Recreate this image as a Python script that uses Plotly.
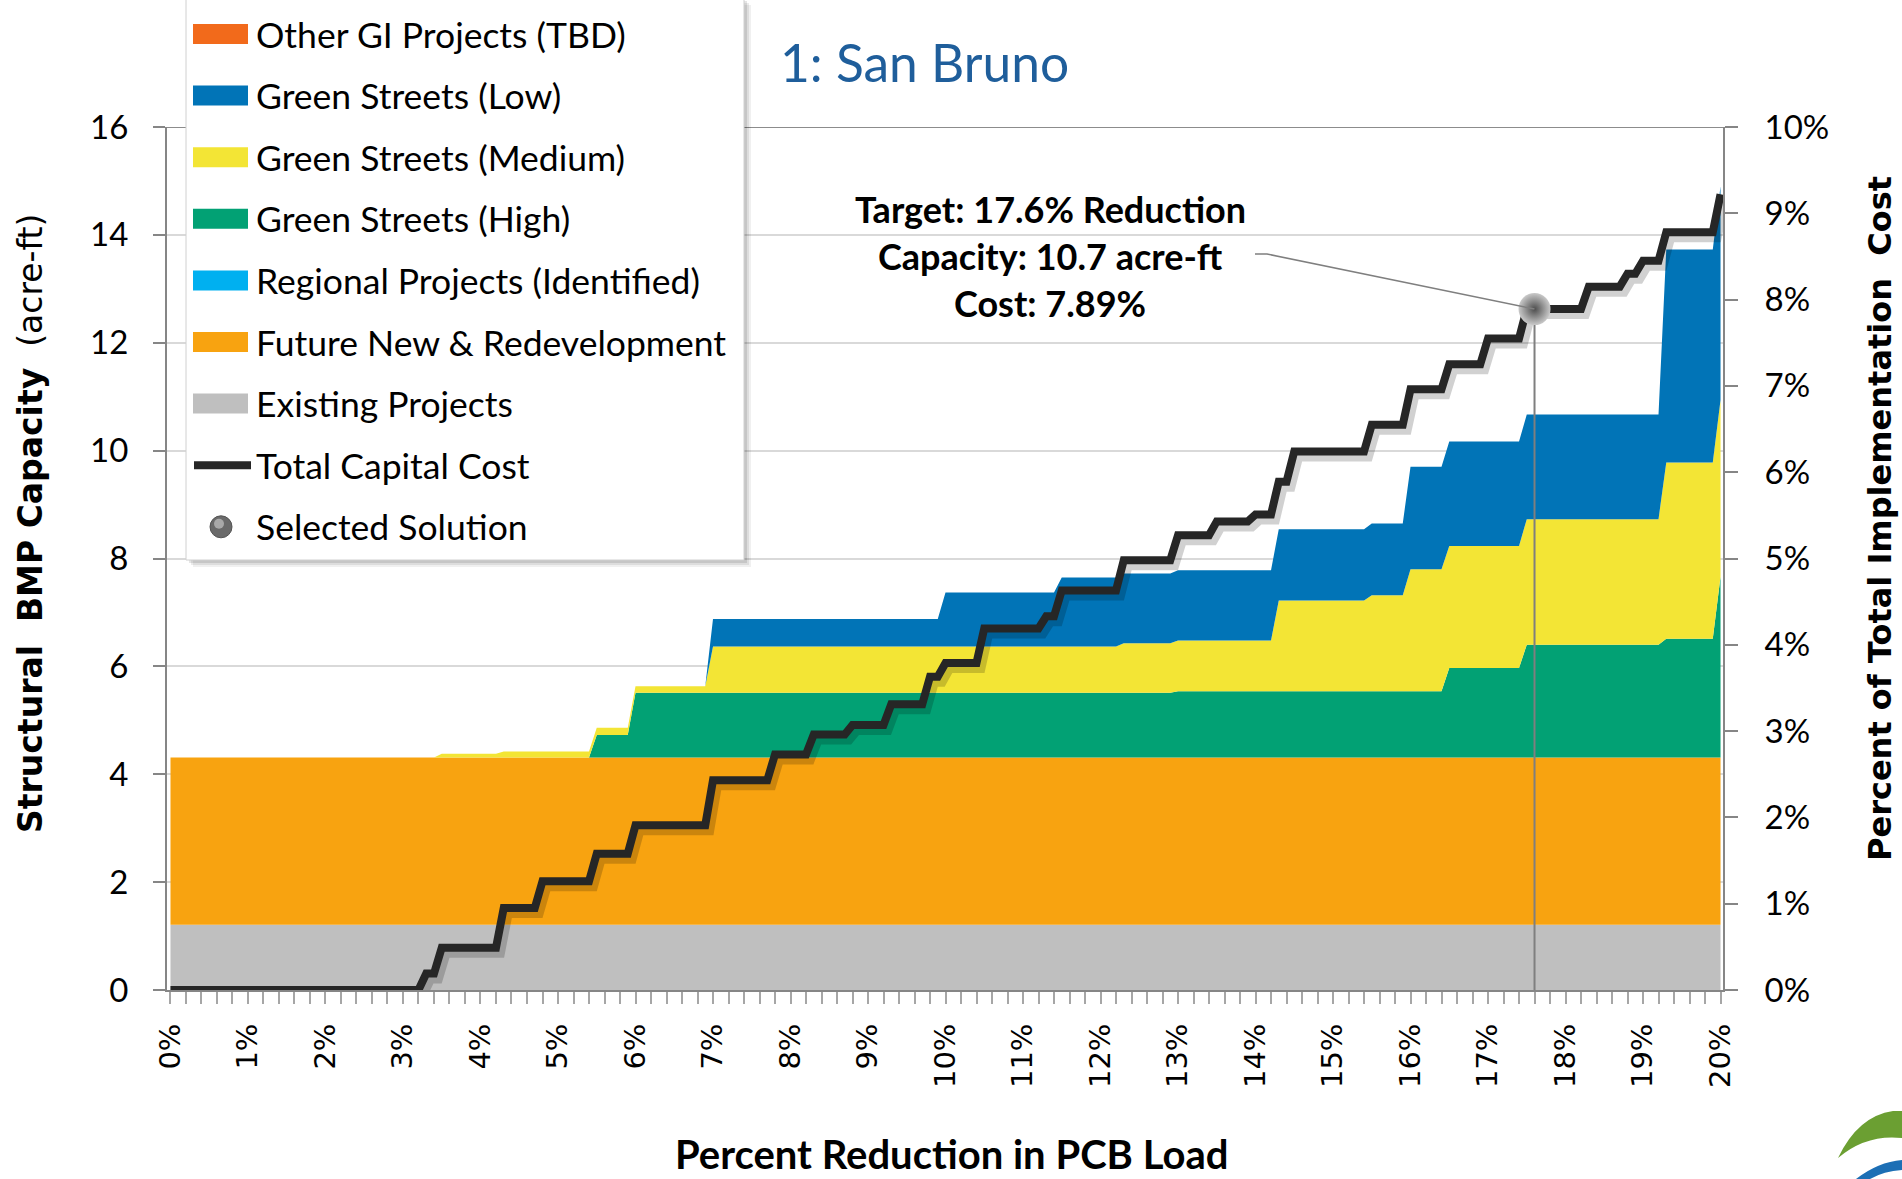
import plotly.graph_objects as go

# ---------------------------------------------------------------
# Data: structural BMP capacity (acre-ft) by percent PCB reduction
# ---------------------------------------------------------------
REDUCTION_PCT = [0, 3.4, 3.5, 4.2, 4.3, 5.4, 5.5, 5.9, 6.0, 6.9, 7.0, 9.9, 10.0,
                 11.4, 11.5, 12.2, 12.3, 12.9, 13.0, 14.2, 14.3, 15.4, 15.5, 15.9,
                 16.0, 16.4, 16.5, 17.4, 17.5, 19.2, 19.3, 19.9, 20.0]

EXISTING_PROJECTS = [1.21] * 33
FUTURE_REDEVELOPMENT = [3.10] * 33
REGIONAL_PROJECTS = [0.0] * 33
GS_HIGH = [0, 0, 0, 0, 0, 0, 0.42, 0.42, 1.20, 1.20, 1.20, 1.20, 1.20,
           1.20, 1.20, 1.20, 1.20, 1.20, 1.23, 1.23, 1.23, 1.23, 1.23, 1.23,
           1.23, 1.23, 1.66, 1.66, 2.09, 2.09, 2.20, 2.20, 3.35]
GS_MEDIUM = [0, 0, 0.07, 0.07, 0.11, 0.11, 0.13, 0.13, 0.12, 0.12, 0.86, 0.86, 0.86,
             0.86, 0.86, 0.86, 0.92, 0.92, 0.94, 0.94, 1.68, 1.68, 1.78, 1.78,
             2.26, 2.26, 2.26, 2.26, 2.33, 2.33, 3.27, 3.27, 3.28]
GS_LOW = [0, 0, 0, 0, 0, 0, 0, 0, 0, 0, 0.51, 0.51, 1.00,
          1.00, 1.28, 1.28, 1.29, 1.29, 1.30, 1.30, 1.32, 1.32, 1.33, 1.33,
          1.90, 1.90, 1.94, 1.94, 1.94, 1.94, 3.95, 3.95, 3.96]
OTHER_GI = [0.0] * 33

# Total capital cost (percent of total implementation cost)
COST_REDUCTION_PCT = [0, 3.2, 3.3, 3.4, 3.5, 4.2, 4.3, 4.7, 4.8, 5.4, 5.5, 5.9, 6.0,
                      6.9, 7.0, 7.7, 7.8, 8.2, 8.3, 8.7, 8.8, 9.2, 9.3, 9.7, 9.8,
                      9.9, 10.0, 10.4, 10.5, 11.2, 11.3, 11.4, 11.5, 12.2, 12.3,
                      12.9, 13.0, 13.4, 13.5, 13.9, 14.0, 14.2, 14.3, 14.4, 14.5,
                      15.4, 15.5, 15.9, 16.0, 16.4, 16.5, 16.9, 17.0, 17.4, 17.5,
                      18.2, 18.3, 18.7, 18.8, 18.9, 19.0, 19.2, 19.3, 19.9, 20.0]
TOTAL_COST_PCT = [0, 0, 0.19, 0.19, 0.49, 0.49, 0.95, 0.95, 1.26, 1.26, 1.58, 1.58, 1.91,
                  1.91, 2.43, 2.43, 2.73, 2.73, 2.96, 2.96, 3.07, 3.07, 3.31, 3.31, 3.63,
                  3.63, 3.79, 3.79, 4.19, 4.19, 4.33, 4.33, 4.63, 4.63, 4.98,
                  4.98, 5.27, 5.27, 5.43, 5.43, 5.51, 5.51, 5.89, 5.89, 6.24,
                  6.24, 6.55, 6.55, 6.96, 6.96, 7.25, 7.25, 7.55, 7.55, 7.89,
                  7.89, 8.15, 8.15, 8.30, 8.30, 8.45, 8.45, 8.78, 8.78, 9.22]

# Selected solution
TARGET_REDUCTION = 17.6
TARGET_CAPACITY = 10.7
TARGET_COST = 7.89

TITLE = "1: San Bruno"

# Stacking order (bottom to top) with colours
STACK = [
    ("Existing Projects", EXISTING_PROJECTS, "#BFBFBF"),
    ("Future New & Redevelopment", FUTURE_REDEVELOPMENT, "#F8A310"),
    ("Regional Projects (Identified)", REGIONAL_PROJECTS, "#00B0F0"),
    ("Green Streets (High)", GS_HIGH, "#02A174"),
    ("Green Streets (Medium)", GS_MEDIUM, "#F3E535"),
    ("Green Streets (Low)", GS_LOW, "#0174B7"),
    ("Other GI Projects (TBD)", OTHER_GI, "#F26A1B"),
]
COST_NAME = "Total Capital Cost"
SOLUTION_NAME = "Selected Solution"
LINE_COLOR = "#262626"

# ---------------------------------------------------------------
# Page geometry
# ---------------------------------------------------------------
W, H = 1902, 1179
ML, MR, MT, MB = 167, 179, 127, 189
PW, PH = W - ML - MR, H - MT - MB
X_RANGE = [-0.045, 20.032]
PX_PER_PCT = PW / (X_RANGE[1] - X_RANGE[0])
PX_PER_COST = PH / 10.0


def px(x):
    """page pixel -> paper x"""
    return (x - ML) / PW


def py(y):
    """page pixel -> paper y"""
    return (H - MB - y) / PH


CALIBRI_LIKE = "Lato, 'Open Sans', sans-serif"
VERDANA_LIKE = "'DejaVu Sans', Verdana, sans-serif"

fig = go.Figure()

# stacked capacity areas
for name, vals, color in STACK:
    fig.add_trace(go.Scatter(
        x=REDUCTION_PCT, y=vals, name=name, mode="lines",
        stackgroup="capacity", line=dict(width=0, color=color),
        fillcolor=color, showlegend=False, hoverinfo="skip",
    ))

# soft shadow under the cost line
fig.add_trace(go.Scatter(
    x=[v + 4 / PX_PER_PCT for v in COST_REDUCTION_PCT],
    y=[v - 5 / PX_PER_COST for v in TOTAL_COST_PCT],
    yaxis="y2", mode="lines", line=dict(color="rgba(0,0,0,0.18)", width=10),
    showlegend=False, hoverinfo="skip",
))

# drop line from the selected solution to the axis
fig.add_trace(go.Scatter(
    x=[TARGET_REDUCTION, TARGET_REDUCTION], y=[0, TARGET_COST], yaxis="y2",
    mode="lines", line=dict(color="#7F7F7F", width=2),
    showlegend=False, hoverinfo="skip",
))

# total capital cost
fig.add_trace(go.Scatter(
    x=COST_REDUCTION_PCT, y=TOTAL_COST_PCT, yaxis="y2", name=COST_NAME,
    mode="lines", line=dict(color=LINE_COLOR, width=8),
    showlegend=False,
))

# selected solution marker
fig.add_trace(go.Scatter(
    x=[TARGET_REDUCTION], y=[TARGET_COST], yaxis="y2", name=SOLUTION_NAME,
    mode="markers", cliponaxis=False,
    marker=dict(size=32, color="#C9C9C9",
                gradient=dict(type="radial", color="#4D4D4D"),
                line=dict(width=0)),
    showlegend=False,
))

shapes = []
annotations = []

# darker frame line along the top of the plot
shapes.append(dict(type="line", xref="paper", yref="y", x0=0, x1=1, y0=16, y1=16,
                   line=dict(color="#8C8C8C", width=2), layer="below"))

# leader line from the label to the selected solution
hook_a = ((1255 - ML) / PX_PER_PCT + X_RANGE[0], (H - MB - 254) / PX_PER_COST)
hook_b = ((1267 - ML) / PX_PER_PCT + X_RANGE[0], (H - MB - 254) / PX_PER_COST)
shapes.append(dict(
    type="path", xref="x", yref="y2",
    path=f"M{hook_a[0]},{hook_a[1]} L{hook_b[0]},{hook_b[1]} L{TARGET_REDUCTION},{TARGET_COST}",
    line=dict(color="#7F7F7F", width=1.5),
))

# ---- legend panel ----
box_l, box_r, box_t, box_b = 186, 744, -2, 560
for off, alpha in ((7, 0.06), (5, 0.08), (3, 0.10)):
    shapes.append(dict(type="rect", xref="paper", yref="paper",
                       x0=px(box_l + off), x1=px(box_r + off),
                       y0=py(box_b + off), y1=py(box_t + off),
                       fillcolor=f"rgba(0,0,0,{alpha})", line=dict(width=0), layer="above"))
shapes.append(dict(type="rect", xref="paper", yref="paper",
                   x0=px(box_l), x1=px(box_r), y0=py(box_b), y1=py(box_t),
                   fillcolor="white", line=dict(color="#D0D0D0", width=1), layer="above"))

legend_entries = [(n, "area", c) for n, _, c in reversed(STACK)]
legend_entries.append((COST_NAME, "line", LINE_COLOR))
legend_entries.append((SOLUTION_NAME, "marker", "#6E6E6E"))

for i, (name, kind, color) in enumerate(legend_entries):
    yc = 34 + 61.6 * i
    if kind == "area":
        shapes.append(dict(type="rect", xref="paper", yref="paper",
                           x0=px(193), x1=px(248), y0=py(yc + 10), y1=py(yc - 10),
                           fillcolor=color, line=dict(width=0), layer="above"))
    elif kind == "line":
        shapes.append(dict(type="line", xref="paper", yref="paper",
                           x0=px(194), x1=px(251), y0=py(yc), y1=py(yc),
                           line=dict(color=color, width=8), layer="above"))
    else:
        shapes.append(dict(type="circle", xref="paper", yref="paper",
                           x0=px(210), x1=px(232), y0=py(yc + 11), y1=py(yc - 11),
                           fillcolor="#6A6A6A", line=dict(color="#555555", width=1),
                           layer="above"))
        shapes.append(dict(type="circle", xref="paper", yref="paper",
                           x0=px(214), x1=px(224), y0=py(yc + 2), y1=py(yc - 8),
                           fillcolor="#A9A9A9", line=dict(width=0), layer="above"))
    annotations.append(dict(text=name, xref="paper", yref="paper",
                            x=px(254), y=py(yc), xanchor="left", yanchor="middle",
                            showarrow=False,
                            font=dict(family=CALIBRI_LIKE, size=35.5, color="#000000")))

# ---- chart title ----
annotations.append(dict(text=TITLE, xref="paper", yref="paper", x=px(924), y=py(62),
                        xanchor="center", yanchor="middle", showarrow=False,
                        font=dict(family=CALIBRI_LIKE, size=51.5, color="#1F5E9B")))

# ---- selected-solution label ----
label_lines = [
    f"Target: {TARGET_REDUCTION:.1f}% Reduction",
    f"Capacity: {TARGET_CAPACITY:.1f} acre-ft",
    f"Cost: {TARGET_COST:.2f}%",
]
for j, line in enumerate(label_lines):
    annotations.append(dict(text=f"<b>{line}</b>", xref="paper", yref="paper",
                            x=px(1050), y=py(209 + 47 * j), xanchor="center",
                            yanchor="middle", showarrow=False,
                            font=dict(family=CALIBRI_LIKE, size=36, color="#000000")))

# ---- axis titles ----
annotations.append(dict(
    text="<b>Structural\u00a0\u00a0BMP\u00a0Capacity</b>\u00a0\u00a0(acre-ft)",
    xref="paper", yref="paper", x=px(30), y=py(524), textangle=-90,
    xanchor="center", yanchor="middle", showarrow=False,
    font=dict(family=VERDANA_LIKE, size=33, color="#000000")))
annotations.append(dict(
    text="<b>Percent\u00a0of\u00a0Total\u00a0Implementation\u00a0\u00a0Cost</b>",
    xref="paper", yref="paper", x=px(1880), y=py(519), textangle=-90,
    xanchor="center", yanchor="middle", showarrow=False,
    font=dict(family=VERDANA_LIKE, size=32, color="#000000")))
annotations.append(dict(
    text="<b>Percent Reduction in PCB Load</b>",
    xref="paper", yref="paper", x=px(952), y=py(1154),
    xanchor="center", yanchor="middle", showarrow=False,
    font=dict(family=CALIBRI_LIKE, size=40, color="#000000")))

# ---- small corner logo ----
def pt(x, y):
    return f"{px(x)},{py(y)}"


shapes.append(dict(type="path", xref="paper", yref="paper",
                   path=(f"M{pt(1838, 1158)} Q{pt(1858, 1116)} {pt(1893, 1111)} "
                         f"L{pt(1902, 1111)} L{pt(1902, 1138)} Q{pt(1866, 1134)} {pt(1838, 1158)} Z"),
                   fillcolor="#6B9F32", line=dict(width=0)))
shapes.append(dict(type="path", xref="paper", yref="paper",
                   path=(f"M{pt(1856, 1179)} Q{pt(1878, 1162)} {pt(1902, 1160)} "
                         f"L{pt(1902, 1170)} Q{pt(1884, 1171)} {pt(1870, 1179)} Z"),
                   fillcolor="#1C6FB5", line=dict(width=0)))

AXIS_GREY = "#868686"
fig.update_layout(
    width=W, height=H,
    margin=dict(l=ML, r=MR, t=MT, b=MB, pad=0),
    paper_bgcolor="white", plot_bgcolor="white",
    showlegend=False,
    xaxis=dict(
        range=X_RANGE, tickmode="linear", tick0=0, dtick=1, ticksuffix="%",
        tickangle=-90, ticks="outside", ticklen=12, tickwidth=1.5, tickcolor="#A6A6A6",
        showline=True, linecolor=AXIS_GREY, linewidth=2, showgrid=False, zeroline=False,
        tickfont=dict(family=VERDANA_LIKE, size=29, color="#000000"),
        ticklabelstandoff=8,
        minor=dict(tick0=0, dtick=0.2, ticks="outside", ticklen=12, tickwidth=1.5,
                   tickcolor="#A6A6A6", showgrid=False),
    ),
    yaxis=dict(
        range=[0, 16], tickmode="linear", tick0=0, dtick=2,
        ticks="outside", ticklen=12, tickwidth=2, tickcolor=AXIS_GREY,
        showline=True, linecolor=AXIS_GREY, linewidth=2,
        showgrid=True, gridcolor="#D9D9D9", gridwidth=2, zeroline=False,
        tickfont=dict(family=CALIBRI_LIKE, size=33, color="#000000"),
        ticklabelstandoff=18,
    ),
    yaxis2=dict(
        range=[0, 10], overlaying="y", side="right", anchor="x",
        tickmode="linear", tick0=0, dtick=1, ticksuffix="%",
        ticks="outside", ticklen=13, tickwidth=2, tickcolor=AXIS_GREY,
        showline=True, linecolor=AXIS_GREY, linewidth=2,
        showgrid=False, zeroline=False,
        tickfont=dict(family=CALIBRI_LIKE, size=33, color="#000000"),
        ticklabelstandoff=20,
    ),
    shapes=shapes,
    annotations=annotations,
)

fig.write_html("out.html")
